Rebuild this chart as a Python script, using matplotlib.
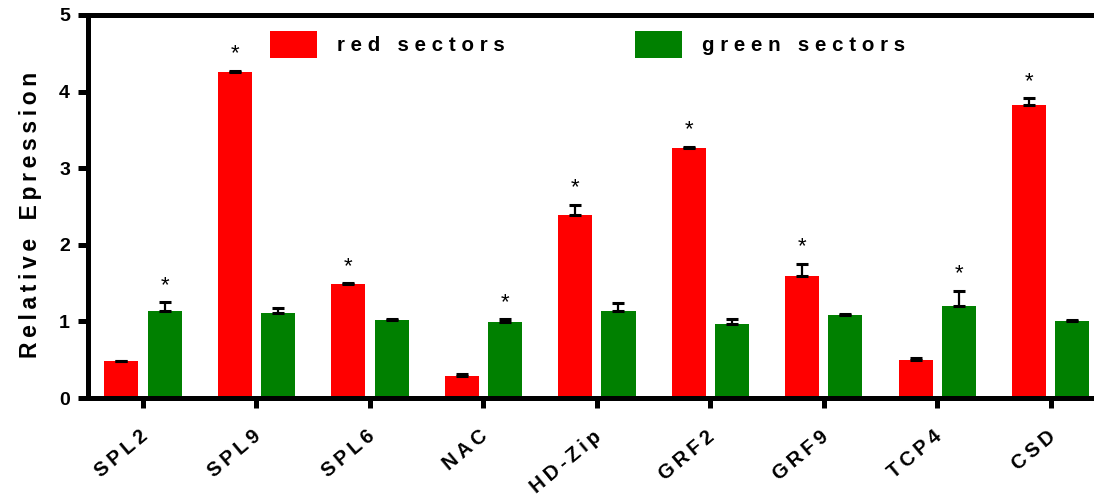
import matplotlib.pyplot as plt
import numpy as np

plt.rcParams['font.family'] = ['Liberation Sans', 'DejaVu Sans']

genes = ['SPL2', 'SPL9', 'SPL6', 'NAC', 'HD-Zip', 'GRF2', 'GRF9', 'TCP4', 'CSD']
red_vals = [0.48, 4.25, 1.49, 0.29, 2.39, 3.26, 1.59, 0.50, 3.83]
red_err = [0.01, 0.02, 0.01, 0.02, 0.13, 0.02, 0.16, 0.02, 0.08]
green_vals = [1.14, 1.11, 1.02, 0.99, 1.13, 0.97, 1.08, 1.20, 1.01]
green_err = [0.11, 0.07, 0.01, 0.04, 0.11, 0.06, 0.02, 0.20, 0.01]
red_sig = [False, True, True, False, True, True, True, False, True]
green_sig = [True, False, False, True, False, False, False, True, False]

THIN = '\u2009'


def spaced(s, gap=' ', word_gap='   '):
    # wide letter spacing, like the Prism export
    return word_gap.join(gap.join(w) for w in s.split(' '))


fig = plt.figure(figsize=(10.94, 4.97), dpi=100)
ax = fig.add_axes([0.0804, 0.199, 0.9196, 0.771])

x = np.arange(len(genes))
w = 0.30
off = 0.19

err_kw = dict(ecolor='black', elinewidth=1.6, capsize=4.5, capthick=2.2)
ax.bar(x - off, red_vals, w, color='#ff0000', label=spaced('red sectors'),
       yerr=[np.zeros(len(genes)), red_err], error_kw=err_kw)
ax.bar(x + off, green_vals, w, color='#008000', label=spaced('green sectors'),
       yerr=[np.zeros(len(genes)), green_err], error_kw=err_kw)

# significance marks
for i in range(len(genes)):
    if red_sig[i]:
        ax.text(x[i] - off, red_vals[i] + red_err[i] + 0.22, '*',
                ha='center', va='center', fontsize=16)
    if green_sig[i]:
        ax.text(x[i] + off, green_vals[i] + green_err[i] + 0.22, '*',
                ha='center', va='center', fontsize=16)

ax.set_xlim(-0.485, 8.38)
ax.set_ylim(0, 5)
ax.set_yticks([0, 1, 2, 3, 4, 5])
ax.set_xticks(x)
# trailing space pulls the slanted labels a bit down-left
ax.set_xticklabels([spaced(g, gap=THIN) + ' ' for g in genes], rotation=40,
                   ha='right', rotation_mode='anchor', fontsize=14.5,
                   fontweight='bold')
for lab in ax.get_yticklabels():
    lab.set_fontweight('bold')
    lab.set_fontsize(14)

ax.spines['right'].set_visible(False)
for side in ['left', 'top', 'bottom']:
    ax.spines[side].set_linewidth(3.6)
ax.tick_params(axis='both', width=3.6, length=7, direction='out')
ax.tick_params(axis='x', pad=11)
ax.tick_params(axis='y', pad=6)

ax.set_ylabel(spaced('Relative Epression', gap=THIN, word_gap=THIN * 4),
              fontsize=16.5, fontweight='bold')
ax.yaxis.set_label_coords(-0.046, 0.478)

leg = ax.legend(loc='upper left', bbox_to_anchor=(0.181, 0.957), ncol=2,
                frameon=False, borderpad=0, borderaxespad=0,
                handlelength=2.29, handleheight=1.6, handletextpad=0.97,
                columnspacing=6.33, prop={'weight': 'bold', 'size': 14.8})

fig.savefig('out.png', dpi=100)
